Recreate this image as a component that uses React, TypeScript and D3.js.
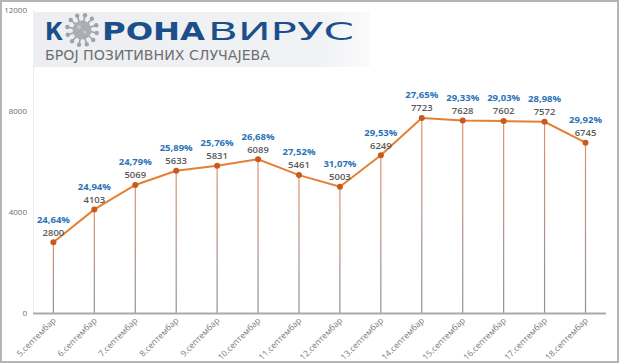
import React from "react";
import * as d3 from "d3";

const dates = ["5.септембар","6.септембар","7.септембар","8.септембар","9.септембар","10.септембар","11.септембар","12.септембар","13.септембар","14.септембар","15.септембар","16.септембар","17.септембар","18.септембар"];
const cases = [2800,4103,5069,5633,5831,6089,5461,5003,6249,7723,7628,7602,7572,6745];
const percents = ["24,64%","24,94%","24,79%","25,89%","25,76%","26,68%","27,52%","31,07%","29,53%","27,65%","29,33%","29,03%","28,98%","29,92%"];
const yTicks = [0,4000,8000,12000];

const W = 620, H = 364;

function Virus({ cx, cy }: { cx: number; cy: number }) {
  const spikes = d3.range(12).map(i => (i / 12) * Math.PI * 2 + 0.2);
  return (
    <g fill="#9ea3ab" stroke="#9ea3ab">
      {spikes.map((a, i) => (
        <g key={i}>
          <line x1={cx + Math.cos(a) * 8} y1={cy + Math.sin(a) * 8} x2={cx + Math.cos(a) * 14} y2={cy + Math.sin(a) * 14} strokeWidth={1.6} />
          <circle cx={cx + Math.cos(a) * 15} cy={cy + Math.sin(a) * 15} r={2.2} stroke="none" />
        </g>
      ))}
      <circle cx={cx} cy={cy} r={9.5} stroke="none" fill="#a9aeb5" />
      <circle cx={cx - 3} cy={cy - 3} r={2} stroke="none" fill="#c4c8cd" />
      <circle cx={cx + 3} cy={cy + 2} r={1.6} stroke="none" fill="#c4c8cd" />
    </g>
  );
}

export default function App() {
  const x = d3.scalePoint<string>().domain(dates).range([53.4, 585.5]);
  const y = d3.scaleLinear().domain([0, 12000]).range([313, 10]);
  const line = d3.line<number>().x((_, i) => x(dates[i])!).y(d => y(d));
  const font = "'Open Sans', 'DejaVu Sans', sans-serif";

  return (
    <svg width={W} height={H} style={{ position: "absolute", left: 0, top: 0, background: "#fff" }} fontFamily={font}>
      <defs>
        <linearGradient id="logoBg" x1="0" x2="1" y1="0" y2="0">
          <stop offset="0" stopColor="#eceef1" />
          <stop offset="0.85" stopColor="#f1f2f4" />
          <stop offset="1" stopColor="#fbfbfc" />
        </linearGradient>
        {cases.map((c, i) => (
          <linearGradient key={i} id={`drop${i}`} gradientUnits="userSpaceOnUse" x1="0" x2="0" y1={y(c)} y2={y(0)}>
            <stop offset="0" stopColor="#e0936a" />
            <stop offset="1" stopColor="#8592a5" />
          </linearGradient>
        ))}
      </defs>
      <rect x={1} y={1} width={W - 3} height={H - 3} fill="#fff" stroke="#b4b4b4" strokeWidth={2} />

      <line x1={33.5} x2={33.5} y1={y(12000)} y2={y(0)} stroke="#ececec" strokeWidth={1} />

      {yTicks.map(t => (
        <text key={t} x={27} y={y(t)} dy="0.35em" textAnchor="end" fontSize={8} fill="#6e6e6e">{t}</text>
      ))}

      <rect x={33} y={12} width={337} height={55} fill="url(#logoBg)" />
      <text x={45} y={39.5} fontSize={25} fontWeight={700} fill="#1b4f8c" fontFamily="'DejaVu Sans', sans-serif" textLength={18} lengthAdjust="spacingAndGlyphs">К</text>
      <Virus cx={82} cy={30} />
      <text x={102} y={39.5} fontSize={25} fontWeight={700} fill="#1b4f8c" fontFamily="'DejaVu Sans', sans-serif" textLength={103} lengthAdjust="spacingAndGlyphs">РОНА</text>
      <text x={208} y={39.5} fontSize={25} fontWeight={400} fill="#1b4f8c" fontFamily="'DejaVu Sans', sans-serif" textLength={146} lengthAdjust="spacingAndGlyphs">ВИРУС</text>
      <text x={45} y={60} fontSize={13.5} fontWeight={400} fill="#6f6f6f" fontFamily="'DejaVu Sans', sans-serif" textLength={225} lengthAdjust="spacingAndGlyphs">БРОЈ ПОЗИТИВНИХ СЛУЧАЈЕВА</text>

      {cases.map((c, i) => (
        <rect key={i} x={x(dates[i])! - 0.6} y={y(c)} width={1.2} height={y(0) - y(c)} fill={`url(#drop${i})`} />
      ))}

      <line x1={33} x2={606} y1={y(0) + 0.5} y2={y(0) + 0.5} stroke="#a9a9a9" strokeWidth={2} />

      <path d={line(cases)!} fill="none" stroke="#e57f32" strokeWidth={2} />
      {cases.map((c, i) => (
        <circle key={i} cx={x(dates[i])!} cy={y(c)} r={3} fill="#c95a1e" />
      ))}

      {cases.map((c, i) => (
        <g key={i}>
          <text x={x(dates[i])!} y={y(c) - 23} dy="0.35em" textAnchor="middle" fontSize={9.5} fontWeight={700} fill="#2b73b9">{percents[i]}</text>
          <text x={x(dates[i])!} y={y(c) - 10} dy="0.35em" textAnchor="middle" fontSize={9.5} fontWeight={600} fill="#5a5a5a">{c}</text>
        </g>
      ))}

      {dates.map((d, i) => (
        <text key={d} transform={`translate(${x(d)! + 3},${321}) rotate(-45)`} textAnchor="end" fontSize={8.5} fill="#7a7a7a">{d}</text>
      ))}
    </svg>
  );
}
